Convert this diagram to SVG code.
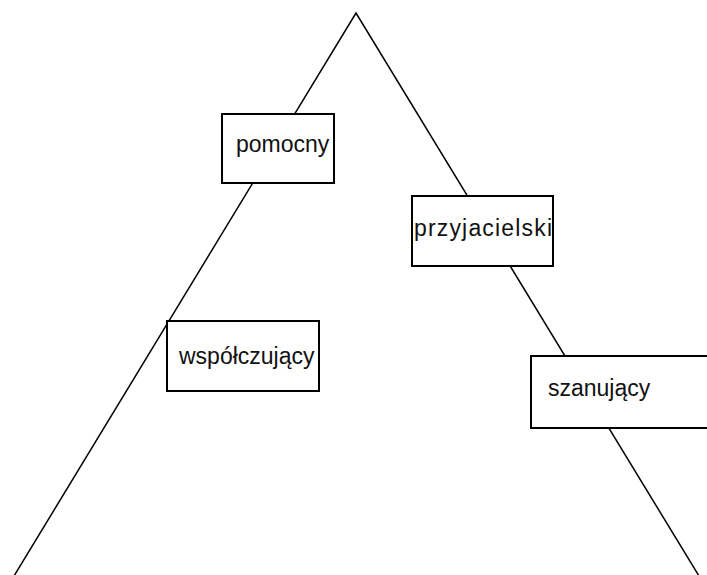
<svg xmlns="http://www.w3.org/2000/svg" width="707" height="575" viewBox="0 0 707 575">
<style>
.edge{fill:none;stroke:#000;stroke-width:1.5}
.box{fill:#fff;stroke:#000;stroke-width:2}
.lbl{font-family:"Liberation Sans",Arial,sans-serif;font-size:23px;fill:#111}
</style>
<rect width="707" height="575" fill="#fff"/>
<g id="connectors">
<polyline class="edge" points="14,576 356,13 699,576"/>
</g>
<g id="pomocny">
<rect class="box" x="222" y="114" width="112" height="69"/>
<text class="lbl" x="236" y="152">pomocny</text>
</g>
<g id="przyjacielski">
<rect class="box" x="412" y="196" width="141" height="70"/>
<text class="lbl" x="414" y="236" textLength="138" lengthAdjust="spacing">przyjacielski</text>
</g>
<g id="wspolczujacy">
<rect class="box" x="167" y="321" width="152" height="70"/>
<text class="lbl" x="179" y="364">współczujący</text>
</g>
<g id="szanujacy">
<rect class="box" x="531" y="356" width="178" height="72"/>
<text class="lbl" x="548" y="396">szanujący</text>
</g>
</svg>
